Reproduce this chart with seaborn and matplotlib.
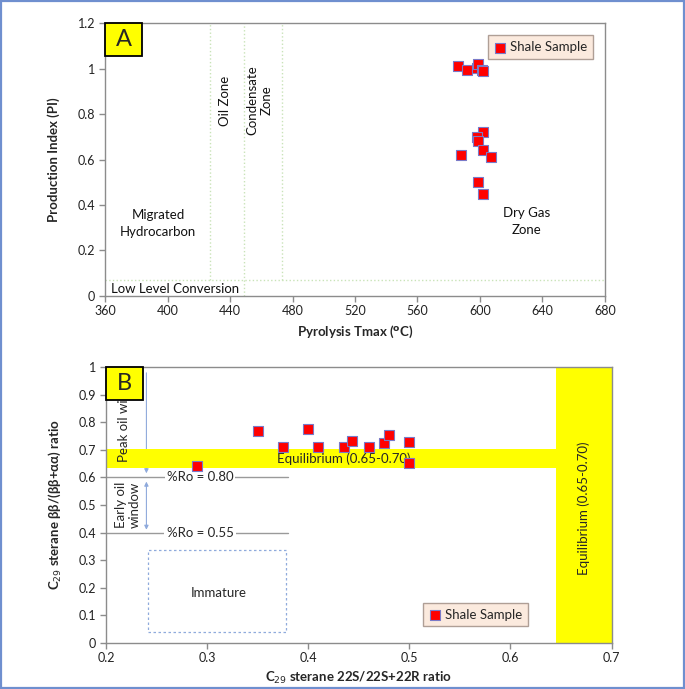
import numpy as np
import pandas as pd

import matplotlib.pyplot as plt
from matplotlib.patches import Rectangle
from matplotlib.ticker import FuncFormatter
import seaborn as sns

# panel A: Rock-Eval Tmax vs production index
tmax = [586, 592, 598, 599, 601, 602, 602, 598, 599, 602, 588, 607, 599, 602]
pi_values = [1.01, 0.995, 1.005, 1.02, 0.995, 0.99, 0.72, 0.70, 0.68, 0.64, 0.62, 0.61, 0.50, 0.45]

# zone boundaries in panel A
oil_zone_start = 427
condensate_start = 449
dry_gas_start = 473
low_conversion_pi = 0.07

# panel B: C29 sterane isomerisation ratios
ratio_22s = [0.29, 0.35, 0.375, 0.40, 0.41, 0.435, 0.443, 0.46, 0.475, 0.48, 0.50, 0.50]
ratio_bb = [0.64, 0.77, 0.71, 0.775, 0.71, 0.71, 0.733, 0.71, 0.724, 0.755, 0.73, 0.653]

# reference ranges in panel B
equil_bb = (0.635, 0.705)
equil_22s = (0.645, 0.70)
ro_080 = 0.6
ro_055 = 0.4
immature_x = (0.242, 0.378)
immature_y = (0.04, 0.335)

df_a = pd.DataFrame({'Tmax': tmax, 'PI': pi_values})
df_b = pd.DataFrame({'s22': ratio_22s, 'bb': ratio_bb})

sns.set_theme(style='white')
plt.rcParams['font.family'] = ['Lato', 'DejaVu Sans']
plt.rcParams['mathtext.fontset'] = 'dejavusans'

GREY = '#8c8c8c'
RED = '#ff0000'
EDGE = '#7a7ac8'
ZONE = '#c9e3b8'
BLUE = '#8faadc'

fig = plt.figure(figsize=(6.85, 6.89), dpi=100)
ax_a = fig.add_axes([0.1533, 0.5708, 0.7299, 0.3954])
ax_b = fig.add_axes([0.1547, 0.0672, 0.7381, 0.3997])

fmt = FuncFormatter(lambda v, p: f'{v:g}')


def style_axes(ax):
    for sp in ax.spines.values():
        sp.set_color(GREY)
        sp.set_linewidth(1.0)
    ax.tick_params(axis='both', which='both', direction='out', length=4, width=1,
                   color=GREY, labelsize=9, labelcolor='#222222',
                   bottom=True, left=True, pad=3)
    ax.xaxis.set_major_formatter(fmt)
    ax.yaxis.set_major_formatter(fmt)
    ax.grid(False)


def letter_box(ax, letter):
    ax.add_patch(Rectangle((0.0, 0.88), 0.074, 0.12, transform=ax.transAxes,
                           facecolor='#ffff00', edgecolor='black', lw=1.3,
                           zorder=10, clip_on=False))
    ax.text(0.037, 0.94, letter, transform=ax.transAxes, ha='center', va='center',
            fontsize=17, zorder=11)


def add_legend(ax, anchor, loc):
    leg = ax.legend(loc=loc, bbox_to_anchor=anchor, fontsize=9.5,
                    frameon=True, fancybox=False, handletextpad=0.3, borderpad=0.45,
                    handlelength=0.9, markerscale=1.1)
    leg.get_frame().set_facecolor('#fbe5d6')
    leg.get_frame().set_edgecolor('#9c8a80')
    leg.get_frame().set_linewidth(1.0)


# ---------------- panel A ----------------
ax = ax_a
ax.set_xlim(360, 680)
ax.set_ylim(0, 1.2)
ax.set_xticks(np.arange(360, 681, 40))
ax.set_yticks(np.arange(0, 1.21, 0.2))
style_axes(ax)

ax.plot([360, 680], [low_conversion_pi] * 2, ls=':', color=ZONE, lw=1)
ax.plot([oil_zone_start] * 2, [low_conversion_pi, 1.2], ls=':', color=ZONE, lw=1)
ax.plot([condensate_start] * 2, [0, 1.2], ls=':', color=ZONE, lw=1)
ax.plot([dry_gas_start] * 2, [low_conversion_pi, 1.2], ls=':', color=ZONE, lw=1)

sns.scatterplot(data=df_a, x='Tmax', y='PI', ax=ax, marker='s', s=48, color=RED,
                edgecolor=EDGE, linewidth=0.8, label='Shale Sample', zorder=5)

txt = dict(fontsize=9.5, color='#111111', ha='center', va='center')
ax.text(394, 0.32, 'Migrated\nHydrocarbon', linespacing=1.5, **txt)
ax.text(437, 0.86, 'Oil Zone', rotation=90, **txt)
ax.text(459, 0.86, 'Condensate\nZone', rotation=90, linespacing=1.2, **txt)
ax.text(630, 0.325, 'Dry Gas\nZone', linespacing=1.5, **txt)
ax.text(405, 0.03, 'Low Level Conversion', **txt)

ax.set_xlabel('Pyrolysis Tmax ($\\mathbf{^{o}}$C)', fontsize=9.5, fontweight='bold', va='center')
ax.set_ylabel('Production Index (PI)', fontsize=9.5, fontweight='bold', va='center')
ax.xaxis.set_label_coords(0.5, -0.132)
ax.yaxis.set_label_coords(-0.102, 0.5)

add_legend(ax, (0.99, 0.98), 'upper right')
letter_box(ax, 'A')

# ---------------- panel B ----------------
ax = ax_b
ax.set_xlim(0.2, 0.7)
ax.set_ylim(0, 1)
ax.set_xticks(np.arange(0.2, 0.71, 0.1))
ax.set_yticks(np.arange(0, 1.01, 0.1))
style_axes(ax)

ax.axhspan(equil_bb[0], equil_bb[1], xmin=0, xmax=(equil_22s[0] - 0.2) / 0.5,
           facecolor='#ffff00', edgecolor='none', zorder=2)
ax.axvspan(equil_22s[0], equil_22s[1], facecolor='#ffff00', edgecolor='none', zorder=2)

ax.plot([0.2, 0.38], [ro_080] * 2, color='#9a9a9a', lw=1, zorder=1)
ax.plot([0.2, 0.38], [ro_055] * 2, color='#9a9a9a', lw=1, zorder=1)
box = dict(facecolor='white', edgecolor='none', pad=1.5)
ax.text(0.293, ro_080, '%Ro = 0.80', fontsize=9.5, ha='center', va='center', bbox=box, zorder=3)
ax.text(0.293, ro_055, '%Ro = 0.55', fontsize=9.5, ha='center', va='center', bbox=box, zorder=3)

ax.annotate('', xy=(0.24, ro_080 + 0.005), xytext=(0.24, 0.99),
            arrowprops=dict(arrowstyle='-|>', color=BLUE, lw=0.8, mutation_scale=6),
            zorder=1)
ax.annotate('', xy=(0.24, ro_055), xytext=(0.24, ro_080 - 0.005),
            arrowprops=dict(arrowstyle='<|-|>', color=BLUE, lw=0.8, mutation_scale=6),
            zorder=1)

# the "B" label box hides the top of this text, as in the original
peak = ax.text(0.218, 0.655, 'Peak oil window', rotation=90, fontsize=9.5, ha='center',
               va='bottom', zorder=3)
peak.set_clip_path(Rectangle((0, 0), 1, 0.88, transform=ax.transAxes))
ax.text(0.222, 0.5, 'Early oil\nwindow', rotation=90, fontsize=9.5, ha='center',
        va='center', linespacing=1.2, zorder=3)

ax.add_patch(Rectangle((immature_x[0], immature_y[0]), immature_x[1] - immature_x[0],
                       immature_y[1] - immature_y[0], fill=False, edgecolor=BLUE,
                       ls=(0, (2, 2)), lw=0.9, zorder=1))
ax.text(0.312, 0.18, 'Immature', fontsize=9.5, ha='center', va='center')

ax.text(0.435, 0.667, 'Equilibrium (0.65-0.70)', fontsize=9.5, ha='center', va='center', zorder=3)
ax.text(0.672, 0.49, 'Equilibrium (0.65-0.70)', fontsize=9.5, ha='center', va='center',
        rotation=90, zorder=3)

sns.scatterplot(data=df_b, x='s22', y='bb', ax=ax, marker='s', s=48, color=RED,
                edgecolor=EDGE, linewidth=0.8, label='Shale Sample', zorder=5)

ax.set_xlabel('C$_{29}$ sterane 22S/22S+22R ratio', fontsize=9.5, fontweight='bold', va='center')
ax.set_ylabel('C$_{29}$ sterane ββ/(ββ+αα) ratio', fontsize=9.5, fontweight='bold', va='center')
ax.xaxis.set_label_coords(0.5, -0.128)
ax.yaxis.set_label_coords(-0.102, 0.5)

add_legend(ax, (0.848, 0.035), 'lower right')
letter_box(ax, 'B')

fig.patches.append(Rectangle((0.002, 0.002), 0.996, 0.996, transform=fig.transFigure,
                             fill=False, edgecolor='#6f8fcf', lw=1.6))

fig.savefig('out.png', dpi=100)
